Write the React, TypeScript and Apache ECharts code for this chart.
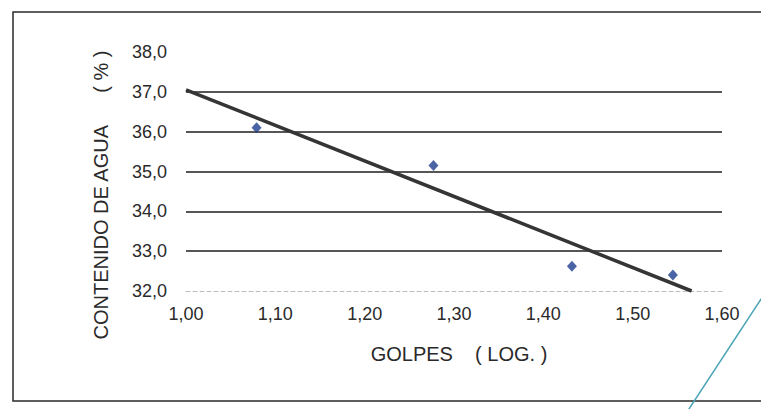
import React, { useEffect, useRef } from "react";
import * as echarts from "echarts";

// Data
const golpesLog: number[] = [1.079, 1.277, 1.432, 1.545];
const contenidoAgua: number[] = [36.1, 35.15, 32.62, 32.4];
const trendX: number[] = [1.0, 1.566];
const trendY: number[] = [37.05, 32.0];
const xTicks = { min: 1.0, max: 1.6, interval: 0.1 };
const yTicks = { min: 32, max: 38, interval: 1 };

const FONT = "'Liberation Sans', Arial, sans-serif";

export default function App() {
  const ref = useRef<HTMLDivElement>(null);
  useEffect(() => {
    if (!ref.current) return;
    const chart = echarts.init(ref.current, null, { renderer: "svg" });
    chart.setOption({
      animation: false,
      backgroundColor: "#ffffff",
      grid: { left: 186, right: 39, top: 52, bottom: 118 },
      xAxis: {
        type: "value",
        min: xTicks.min,
        max: xTicks.max,
        interval: xTicks.interval,
        axisLine: { show: true, lineStyle: { color: "#bdbdbd", width: 1, type: [4, 3] } },
        axisTick: { show: false },
        splitLine: { show: false },
        axisLabel: {
          color: "#2a2a2a",
          fontFamily: FONT,
          fontSize: 18,
          margin: 14,
          formatter: (v: number) => v.toFixed(2).replace(".", ","),
        },
      },
      yAxis: {
        type: "value",
        min: yTicks.min,
        max: yTicks.max,
        interval: yTicks.interval,
        axisLine: { show: false },
        axisTick: { show: false },
        splitLine: {
          show: true,
          showMinLine: false,
          showMaxLine: false,
          lineStyle: { color: "#1e1e1e", width: 1.6 },
        },
        axisLabel: {
          color: "#2a2a2a",
          fontFamily: FONT,
          fontSize: 18,
          margin: 19,
          padding: [7, 0, 0, 0],
          formatter: (v: number) => v.toFixed(1).replace(".", ","),
        },
      },
      series: [
        {
          type: "line",
          data: trendX.map((x, i) => [x, trendY[i]]),
          showSymbol: false,
          symbol: "none",
          lineStyle: { color: "#353535", width: 3.5 },
          z: 3,
        },
        {
          type: "scatter",
          data: golpesLog.map((x, i) => [x, contenidoAgua[i]]),
          symbol: "diamond",
          symbolSize: [10, 11],
          itemStyle: { color: "#1d3d8e" },
          z: 4,
        },
      ],
      graphic: [
        {
          type: "rect",
          shape: { x: 13, y: 12, width: 800, height: 389 },
          style: { fill: "none", stroke: "#2a2a2a", lineWidth: 1.5 },
          silent: true,
        },
        {
          type: "text",
          x: 101,
          y: 195,
          rotation: Math.PI / 2,
          style: {
            text: "CONTENIDO DE AGUA      ( % )",
            fill: "#2a2a2a",
            font: `20px ${FONT}`,
            align: "center",
            verticalAlign: "middle",
          },
        },
        {
          type: "text",
          x: 459,
          y: 354,
          style: {
            text: "GOLPES    ( LOG. )",
            fill: "#2a2a2a",
            font: `20px ${FONT}`,
            align: "center",
            verticalAlign: "middle",
          },
        },
        {
          type: "line",
          shape: { x1: 687, y1: 412, x2: 763, y2: 296 },
          style: { stroke: "#4aa3b5", lineWidth: 1.5 },
          silent: true,
        },
      ],
    });
    return () => chart.dispose();
  }, []);
  return (
    <div
      ref={ref}
      style={{ position: "fixed", left: 0, top: 0, width: 761, height: 409, background: "#fff" }}
    />
  );
}
